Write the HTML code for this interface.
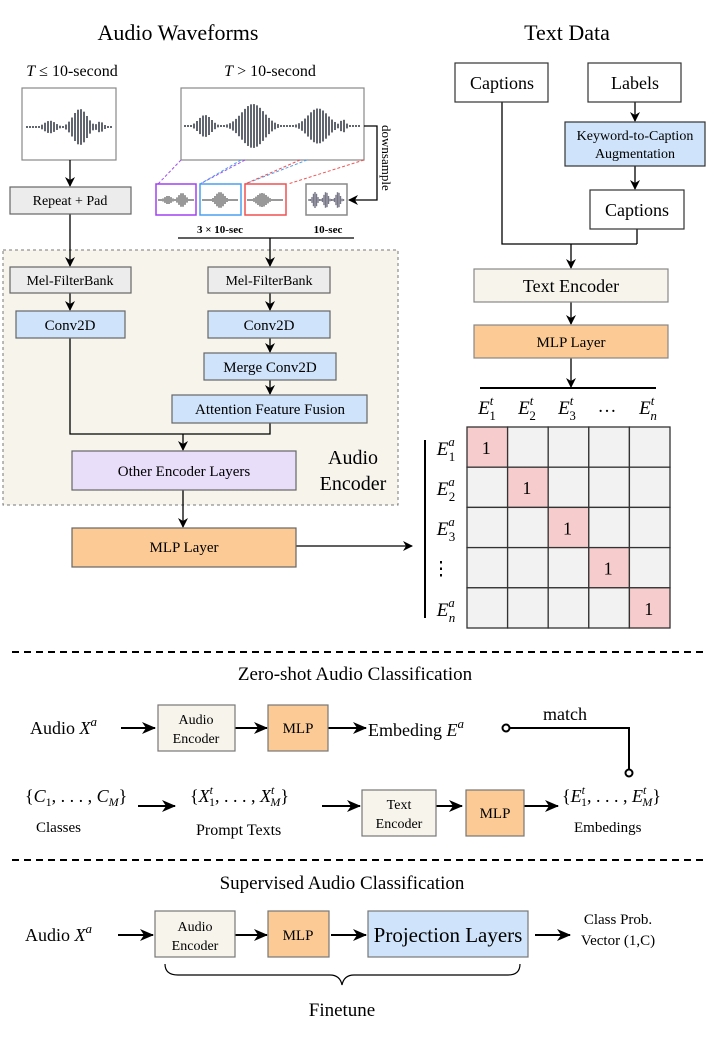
<!DOCTYPE html>
<html><head><meta charset="utf-8"><style>
html,body{margin:0;padding:0;background:#fff}
svg{display:block;font-family:"Liberation Serif",serif}
</style></head><body>
<svg id="s" width="720" height="1038" viewBox="0 0 720 1038" xmlns="http://www.w3.org/2000/svg">
<defs>
<marker id="a" markerWidth="10" markerHeight="10" refX="9" refY="5" orient="auto" markerUnits="userSpaceOnUse"><path d="M0,0 L10,5 L0,10 L3,5 z" fill="#000"/></marker>
<marker id="b" markerWidth="14" markerHeight="12" refX="13" refY="6" orient="auto" markerUnits="userSpaceOnUse"><path d="M0,0 L14,6 L0,12 L4,6 z" fill="#000"/></marker>
</defs>
<g font-size="22" text-anchor="middle">
<text x="178" y="40">Audio Waveforms</text>
<text x="567" y="40">Text Data</text>
</g>
<g font-size="16" text-anchor="middle">
<text x="72" y="76"><tspan font-style="italic">T</tspan> ≤ 10-second</text>
<text x="270" y="76"><tspan font-style="italic">T</tspan> &gt; 10-second</text>
</g>
<rect x="22" y="88" width="94" height="72" fill="#fff" stroke="#888" stroke-width="1.2"/>
<rect x="181" y="88" width="183" height="72" fill="#fff" stroke="#888" stroke-width="1.2"/>
<line x1="181" y1="160" x2="158" y2="184" stroke="#a050f0" stroke-dasharray="3,2"/>
<line x1="245" y1="160" x2="200" y2="184" stroke="#a050f0" stroke-dasharray="3,2"/>
<line x1="241" y1="160" x2="200" y2="184" stroke="#4aa0f0" stroke-dasharray="3,2"/>
<line x1="307" y1="160" x2="245" y2="184" stroke="#4aa0f0" stroke-dasharray="3,2"/>
<line x1="300" y1="160" x2="245" y2="184" stroke="#f05050" stroke-dasharray="3,2"/>
<line x1="364" y1="160" x2="288" y2="184" stroke="#f05050" stroke-dasharray="3,2"/>
<rect x="156" y="184" width="40" height="31" fill="#fff" stroke="#a040f0" stroke-width="1.5"/>
<rect x="200" y="184" width="41" height="31" fill="#fff" stroke="#4aa0f0" stroke-width="1.5"/>
<rect x="245" y="184" width="41" height="31" fill="#fff" stroke="#f05050" stroke-width="1.5"/>
<rect x="306" y="184" width="41" height="31" fill="#fff" stroke="#888" stroke-width="1.5"/>
<g id="w"></g>
<polyline points="364,126 377,126 377,200 349,200" fill="none" stroke="#000" stroke-width="1.3" marker-end="url(#a)"/>
<text transform="translate(382,125) rotate(90)" font-size="13">downsample</text>
<g font-size="11" font-weight="bold" text-anchor="middle"><text x="220" y="233">3 × 10-sec</text><text x="328" y="233">10-sec</text></g>
<line x1="178" y1="238" x2="354" y2="238" stroke="#000" stroke-width="1.3"/>
<rect x="3" y="250" width="395" height="255" fill="#f7f4ec" stroke="#777" stroke-dasharray="3,3"/>
<g stroke="#000" stroke-width="1.3" fill="none">
<line x1="70" y1="160" x2="70" y2="186" marker-end="url(#a)"/>
<line x1="70" y1="214" x2="70" y2="266" marker-end="url(#a)"/>
<line x1="270" y1="238" x2="270" y2="266" marker-end="url(#a)"/>
<line x1="70" y1="293" x2="70" y2="310" marker-end="url(#a)"/>
<line x1="270" y1="293" x2="270" y2="310" marker-end="url(#a)"/>
<line x1="270" y1="338" x2="270" y2="352" marker-end="url(#a)"/>
<line x1="270" y1="380" x2="270" y2="394" marker-end="url(#a)"/>
<polyline points="70,338 70,434 270,434 270,423"/>
<line x1="183" y1="434" x2="183" y2="450" marker-end="url(#a)"/>
<line x1="183" y1="490" x2="183" y2="527" marker-end="url(#a)"/>
<line x1="296" y1="546" x2="412" y2="546" marker-end="url(#a)"/>
</g>
<g stroke="#666" stroke-width="1.2">
<rect x="10" y="187" width="121" height="27" fill="#ececec"/>
<rect x="10" y="267" width="121" height="26" fill="#ececec"/>
<rect x="208" y="267" width="122" height="26" fill="#ececec"/>
<rect x="16" y="311" width="109" height="27" fill="#cfe3fa"/>
<rect x="208" y="311" width="122" height="27" fill="#cfe3fa"/>
<rect x="204" y="353" width="132" height="27" fill="#cfe3fa"/>
<rect x="172" y="395" width="195" height="28" fill="#cfe3fa"/>
<rect x="72" y="451" width="224" height="39" fill="#e8defa"/>
<rect x="72" y="528" width="224" height="39" fill="#fcca94"/>
</g>
<g font-size="14" text-anchor="middle">
<text x="70" y="205">Repeat + Pad</text>
<text x="70" y="285">Mel-FilterBank</text>
<text x="269" y="285">Mel-FilterBank</text>
<text x="70" y="330" font-size="15">Conv2D</text>
<text x="269" y="330" font-size="15">Conv2D</text>
<text x="270" y="372" font-size="15">Merge Conv2D</text>
<text x="270" y="414" font-size="15">Attention Feature Fusion</text>
<text x="184" y="476" font-size="15">Other Encoder Layers</text>
<text x="184" y="552" font-size="15">MLP Layer</text>
<text x="353" y="464" font-size="20">Audio</text>
<text x="353" y="490" font-size="20">Encoder</text>
</g>
<g stroke="#000" stroke-width="1.3" fill="none">
<polyline points="502,102 502,244 571,244"/>
<line x1="637" y1="229" x2="637" y2="244"/>
<line x1="571" y1="244" x2="637" y2="244"/>
<line x1="571" y1="244" x2="571" y2="268" marker-end="url(#a)"/>
<line x1="635" y1="102" x2="635" y2="121" marker-end="url(#a)"/>
<line x1="635" y1="166" x2="635" y2="189" marker-end="url(#a)"/>
<line x1="571" y1="302" x2="571" y2="324" marker-end="url(#a)"/>
<line x1="571" y1="358" x2="571" y2="387" marker-end="url(#a)"/>
<line x1="480" y1="388" x2="656" y2="388" stroke-width="2"/>
<line x1="425" y1="440" x2="425" y2="618" stroke-width="2"/>
</g>
<g stroke="#333" stroke-width="1.2">
<rect x="455" y="63" width="93" height="39" fill="#fff"/>
<rect x="588" y="63" width="93" height="39" fill="#fff"/>
<rect x="565" y="122" width="140" height="44" fill="#cfe3fa"/>
<rect x="590" y="190" width="94" height="39" fill="#fff"/>
<rect x="474" y="269" width="194" height="33" fill="#f7f4ec" stroke="#888"/>
<rect x="474" y="325" width="194" height="33" fill="#fcca94" stroke="#888"/>
</g>
<g font-size="18" text-anchor="middle">
<text x="502" y="89">Captions</text>
<text x="635" y="89">Labels</text>
<text x="635" y="140" font-size="14">Keyword-to-Caption</text>
<text x="635" y="158" font-size="14">Augmentation</text>
<text x="637" y="216">Captions</text>
<text x="571" y="292">Text Encoder</text>
<text x="571" y="347" font-size="15">MLP Layer</text>
</g>
<g id="m"></g>
<g font-size="19" font-style="italic" text-anchor="middle">
<text x="487" y="414">E<tspan font-size="13" dy="-9">t</tspan><tspan font-size="13" font-style="normal" dx="-4" dy="15">1</tspan></text>
<text x="527" y="414">E<tspan font-size="13" dy="-9">t</tspan><tspan font-size="13" font-style="normal" dx="-4" dy="15">2</tspan></text>
<text x="567" y="414">E<tspan font-size="13" dy="-9">t</tspan><tspan font-size="13" font-style="normal" dx="-4" dy="15">3</tspan></text>
<text x="607" y="412" font-style="normal">…</text>
<text x="648" y="414">E<tspan font-size="13" dy="-9">t</tspan><tspan font-size="13" dx="-4" dy="15">n</tspan></text>
<text x="446" y="455">E<tspan font-size="13" dy="-9">a</tspan><tspan font-size="13" font-style="normal" dx="-6" dy="15">1</tspan></text>
<text x="446" y="495">E<tspan font-size="13" dy="-9">a</tspan><tspan font-size="13" font-style="normal" dx="-6" dy="15">2</tspan></text>
<text x="446" y="535">E<tspan font-size="13" dy="-9">a</tspan><tspan font-size="13" font-style="normal" dx="-6" dy="15">3</tspan></text>
<text x="441" y="575" font-style="normal">⋮</text>
<text x="446" y="616">E<tspan font-size="13" dy="-9">a</tspan><tspan font-size="13" dx="-6" dy="15">n</tspan></text>
</g>
<line x1="12" y1="652" x2="706" y2="652" stroke="#000" stroke-width="2" stroke-dasharray="7,5"/>
<line x1="12" y1="860" x2="706" y2="860" stroke="#000" stroke-width="2" stroke-dasharray="7,5"/>
<g font-size="19" text-anchor="middle">
<text x="355" y="680">Zero-shot Audio Classification</text>
<text x="342" y="889">Supervised Audio Classification</text>
<text x="342" y="1016">Finetune</text>
</g>
<g stroke="#000" stroke-width="2" fill="none">
<line x1="121" y1="728" x2="155" y2="728" marker-end="url(#b)"/>
<line x1="235" y1="728" x2="267" y2="728" marker-end="url(#b)"/>
<line x1="328" y1="728" x2="366" y2="728" marker-end="url(#b)"/>
<polyline points="506,728 629,728 629,770" stroke-width="2"/>
<line x1="138" y1="806" x2="175" y2="806" marker-end="url(#b)"/>
<line x1="322" y1="806" x2="360" y2="806" marker-end="url(#b)"/>
<line x1="436" y1="806" x2="462" y2="806" marker-end="url(#b)"/>
<line x1="522" y1="806" x2="558" y2="806" marker-end="url(#b)"/>
<line x1="118" y1="935" x2="153" y2="935" marker-end="url(#b)"/>
<line x1="235" y1="935" x2="267" y2="935" marker-end="url(#b)"/>
<line x1="331" y1="935" x2="366" y2="935" marker-end="url(#b)"/>
<line x1="535" y1="935" x2="570" y2="935" marker-end="url(#b)"/>
<path d="M165,964 Q165,975 178,975 L330,975 Q340,975 342,985 Q344,975 354,975 L508,975 Q520,975 520,964" stroke-width="1.2"/>
</g>
<circle cx="506" cy="728" r="3.5" fill="#fff" stroke="#000" stroke-width="2"/>
<circle cx="629" cy="773" r="3.5" fill="#fff" stroke="#000" stroke-width="2"/>
<g stroke="#777" stroke-width="1.2">
<rect x="158" y="705" width="77" height="46" fill="#f7f4ec"/>
<rect x="268" y="705" width="60" height="46" fill="#fcca94"/>
<rect x="362" y="790" width="74" height="46" fill="#f7f4ec"/>
<rect x="466" y="790" width="58" height="46" fill="#fcca94"/>
<rect x="155" y="911" width="80" height="46" fill="#f7f4ec"/>
<rect x="268" y="911" width="61" height="46" fill="#fcca94"/>
<rect x="368" y="911" width="160" height="46" fill="#cfe3fa"/>
</g>
<g font-size="14" text-anchor="middle">
<text x="196" y="724">Audio</text><text x="196" y="743">Encoder</text>
<text x="298" y="733" font-size="15">MLP</text>
<text x="399" y="809">Text</text><text x="399" y="828">Encoder</text>
<text x="495" y="818" font-size="15">MLP</text>
<text x="195" y="931">Audio</text><text x="195" y="950">Encoder</text>
<text x="298" y="940" font-size="15">MLP</text>
<text x="448" y="942" font-size="21">Projection Layers</text>
<text x="618" y="924" font-size="15">Class Prob.</text>
<text x="618" y="945" font-size="15">Vector (1,C)</text>
</g>
<g font-size="18">
<text x="30" y="734">Audio <tspan font-style="italic">X</tspan><tspan font-size="13" font-style="italic" dy="-8">a</tspan></text>
<text x="368" y="736">Embeding <tspan font-style="italic">E</tspan><tspan font-size="13" font-style="italic" dy="-8">a</tspan></text>
<text x="543" y="720">match</text>
<text x="25" y="802">{<tspan font-style="italic">C</tspan><tspan font-size="12" dy="4">1</tspan><tspan dy="-4">, . . . , </tspan><tspan font-style="italic">C</tspan><tspan font-size="12" font-style="italic" dy="4">M</tspan><tspan dy="-4">}</tspan></text>
<text x="36" y="832" font-size="15">Classes</text>
<text x="190" y="802">{<tspan font-style="italic">X</tspan><tspan font-size="12" font-style="italic" dy="-8">t</tspan><tspan font-size="12" dx="-4" dy="12">1</tspan><tspan dy="-4">, . . . , </tspan><tspan font-style="italic">X</tspan><tspan font-size="12" font-style="italic" dy="-8">t</tspan><tspan font-size="12" font-style="italic" dx="-4" dy="12">M</tspan><tspan dy="-4">}</tspan></text>
<text x="196" y="835" font-size="16">Prompt Texts</text>
<text x="562" y="802">{<tspan font-style="italic">E</tspan><tspan font-size="12" font-style="italic" dy="-8">t</tspan><tspan font-size="12" dx="-4" dy="12">1</tspan><tspan dy="-4">, . . . , </tspan><tspan font-style="italic">E</tspan><tspan font-size="12" font-style="italic" dy="-8">t</tspan><tspan font-size="12" font-style="italic" dx="-4" dy="12">M</tspan><tspan dy="-4">}</tspan></text>
<text x="574" y="832" font-size="15">Embedings</text>
<text x="25" y="941">Audio <tspan font-style="italic">X</tspan><tspan font-size="13" font-style="italic" dy="-8">a</tspan></text>
</g>
</svg>
<script>
var NS="http://www.w3.org/2000/svg";
function wave(g,x0,x1,yc,h,peaks,col,sw,step){
 for(var x=x0;x<=x1;x+=step){var a=0;for(var i=0;i<peaks.length;i++){var p=peaks[i];var d=(x-p[0])/p[1];a=Math.max(a,p[2]*Math.exp(-d*d));}
  var hh=Math.max(1,a*h);var l=document.createElementNS(NS,"line");l.setAttribute("x1",x);l.setAttribute("x2",x);l.setAttribute("y1",yc-hh);l.setAttribute("y2",yc+hh);l.setAttribute("stroke",col);l.setAttribute("stroke-width",sw);g.appendChild(l);}
}
var g=document.getElementById("w");
wave(g,27,112,127,18,[[50,8,0.35],[80,10,1],[100,5,0.3]],"#1d2333",1.4,3);
wave(g,185,360,126,22,[[205,9,0.5],[253,16,1],[318,14,0.8],[343,4,0.3]],"#1d2333",1.4,3);
wave(g,159,193,200,7,[[168,5,0.6],[182,5,1]],"#333",1,2);
wave(g,203,238,200,8,[[220,6,1]],"#333",1,2);
wave(g,248,283,200,7,[[262,7,1]],"#333",1,2);
wave(g,309,344,200,8,[[315,3,1],[326,3,1],[338,3,1]],"#778",1.4,1.5);
var m=document.getElementById("m");var cw=40.6;
for(var r=0;r<5;r++)for(var c=0;c<5;c++){var rc=document.createElementNS(NS,"rect");rc.setAttribute("x",467+c*cw);rc.setAttribute("y",427+r*40.2);rc.setAttribute("width",cw);rc.setAttribute("height",40.2);rc.setAttribute("fill",r==c?"#f7cccc":"#f2f2f2");rc.setAttribute("stroke","#333");rc.setAttribute("stroke-width","1.3");m.appendChild(rc);
 if(r==c){var t=document.createElementNS(NS,"text");t.setAttribute("x",467+c*cw+cw/2-1);t.setAttribute("y",427+r*40.2+27);t.setAttribute("font-size","18");t.setAttribute("text-anchor","middle");t.textContent="1";m.appendChild(t);}}
</script>
</body></html>
